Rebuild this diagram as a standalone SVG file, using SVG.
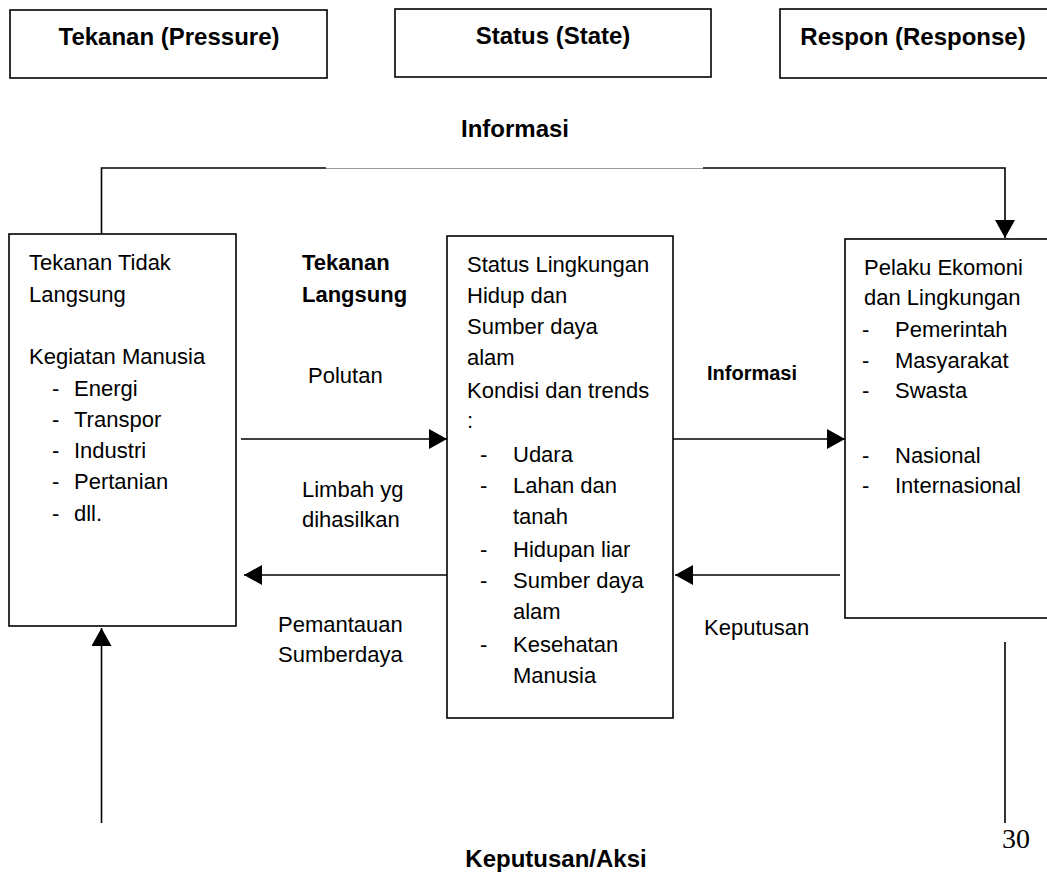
<svg xmlns="http://www.w3.org/2000/svg" width="1047" height="886" viewBox="0 0 1047 886">
<style>
.box{fill:#fff;stroke:#000;stroke-width:1.6}
.t{font-family:"Liberation Sans",Arial,sans-serif;font-size:22px;fill:#000}
.b{font-family:"Liberation Sans",Arial,sans-serif;font-weight:bold;fill:#000}
.ln{fill:none;stroke:#000;stroke-width:1.6}
.gray{fill:none;stroke:#999;stroke-width:1.2}
.num{font-family:"Liberation Serif","Times New Roman",serif;font-size:28px;fill:#000}
</style>
<defs>
<marker id="ah" viewBox="0 0 18 20" refX="18" refY="10" markerWidth="18" markerHeight="20" markerUnits="userSpaceOnUse" orient="auto">
<path d="M0,0 L18,10 L0,20 z" fill="#000"/>
</marker>
</defs>
<rect width="1047" height="886" fill="#fff"/>

<g id="hdr-pressure">
<rect class="box" x="10" y="10" width="317" height="68"/>
<text class="b" font-size="24" x="169" y="45" text-anchor="middle">Tekanan (Pressure)</text>
</g>
<g id="hdr-state">
<rect class="box" x="395" y="9" width="316" height="68"/>
<text class="b" font-size="24" x="553" y="44" text-anchor="middle">Status (State)</text>
</g>
<g id="hdr-response">
<rect class="box" x="780" y="9" width="300" height="69"/>
<text class="b" font-size="24" x="913" y="45" text-anchor="middle">Respon (Response)</text>
</g>

<g id="connectors">
<path class="ln" d="M101.5,234 V168 H326"/>
<path class="gray" d="M326,168.5 H703"/>
<path class="ln" d="M703,168 H1005 V238" marker-end="url(#ah)"/>
<line class="ln" x1="241" y1="439" x2="447" y2="439" marker-end="url(#ah)"/>
<line class="ln" x1="673" y1="439" x2="845" y2="439" marker-end="url(#ah)"/>
<line class="ln" x1="447" y1="575" x2="244" y2="575" marker-end="url(#ah)"/>
<line class="ln" x1="840" y1="575" x2="675" y2="575" marker-end="url(#ah)"/>
<line class="ln" x1="101.5" y1="823" x2="101.5" y2="628" marker-end="url(#ah)"/>
<line class="ln" x1="1005" y1="642" x2="1005" y2="823"/>
</g>

<g id="lbl-informasi-top">
<text class="b" font-size="24" x="515" y="137" text-anchor="middle">Informasi</text>
</g>
<g id="lbl-tekanan-langsung">
<text class="b" font-size="22" x="302" y="270">Tekanan</text>
<text class="b" font-size="22" x="302" y="302">Langsung</text>
</g>
<g id="lbl-polutan"><text class="t" x="308" y="383">Polutan</text></g>
<g id="lbl-limbah">
<text class="t" x="302" y="497">Limbah yg</text>
<text class="t" x="302" y="527">dihasilkan</text>
</g>
<g id="lbl-pemantauan">
<text class="t" x="278" y="632">Pemantauan</text>
<text class="t" x="278" y="662">Sumberdaya</text>
</g>
<g id="lbl-informasi-mid"><text class="b" font-size="20" x="707" y="380">Informasi</text></g>
<g id="lbl-keputusan"><text class="t" x="704" y="635">Keputusan</text></g>
<g id="lbl-keputusan-aksi"><text class="b" font-size="24" x="556" y="867" text-anchor="middle">Keputusan/Aksi</text></g>
<g id="page-num"><text class="num" x="1002" y="848">30</text></g>

<g id="node-pressure">
<rect class="box" x="9" y="234" width="227" height="392"/>
<text class="t" x="29" y="270">Tekanan Tidak</text>
<text class="t" x="29" y="302">Langsung</text>
<text class="t" x="29" y="364">Kegiatan Manusia</text>
<text class="t" x="52" y="396">-</text><text class="t" x="74" y="396">Energi</text>
<text class="t" x="52" y="427">-</text><text class="t" x="74" y="427">Transpor</text>
<text class="t" x="52" y="458">-</text><text class="t" x="74" y="458">Industri</text>
<text class="t" x="52" y="489">-</text><text class="t" x="74" y="489">Pertanian</text>
<text class="t" x="52" y="521">-</text><text class="t" x="74" y="521">dll.</text>
</g>

<g id="node-state">
<rect class="box" x="447" y="236" width="226" height="482"/>
<text class="t" x="467" y="272">Status Lingkungan</text>
<text class="t" x="467" y="303">Hidup dan</text>
<text class="t" x="467" y="334">Sumber daya</text>
<text class="t" x="467" y="365">alam</text>
<text class="t" x="467" y="398">Kondisi dan trends</text>
<text class="t" x="467" y="428">:</text>
<text class="t" x="480" y="462">-</text><text class="t" x="513" y="462">Udara</text>
<text class="t" x="480" y="493">-</text><text class="t" x="513" y="493">Lahan dan</text>
<text class="t" x="513" y="524">tanah</text>
<text class="t" x="480" y="557">-</text><text class="t" x="513" y="557">Hidupan liar</text>
<text class="t" x="480" y="588">-</text><text class="t" x="513" y="588">Sumber daya</text>
<text class="t" x="513" y="619">alam</text>
<text class="t" x="480" y="652">-</text><text class="t" x="513" y="652">Kesehatan</text>
<text class="t" x="513" y="683">Manusia</text>
</g>

<g id="node-response">
<rect class="box" x="845" y="239" width="220" height="379"/>
<text class="t" x="864" y="275">Pelaku Ekomoni</text>
<text class="t" x="864" y="305">dan Lingkungan</text>
<text class="t" x="862" y="337">-</text><text class="t" x="895" y="337">Pemerintah</text>
<text class="t" x="862" y="368">-</text><text class="t" x="895" y="368">Masyarakat</text>
<text class="t" x="862" y="398">-</text><text class="t" x="895" y="398">Swasta</text>
<text class="t" x="862" y="463">-</text><text class="t" x="895" y="463">Nasional</text>
<text class="t" x="862" y="493">-</text><text class="t" x="895" y="493">Internasional</text>
</g>
</svg>
